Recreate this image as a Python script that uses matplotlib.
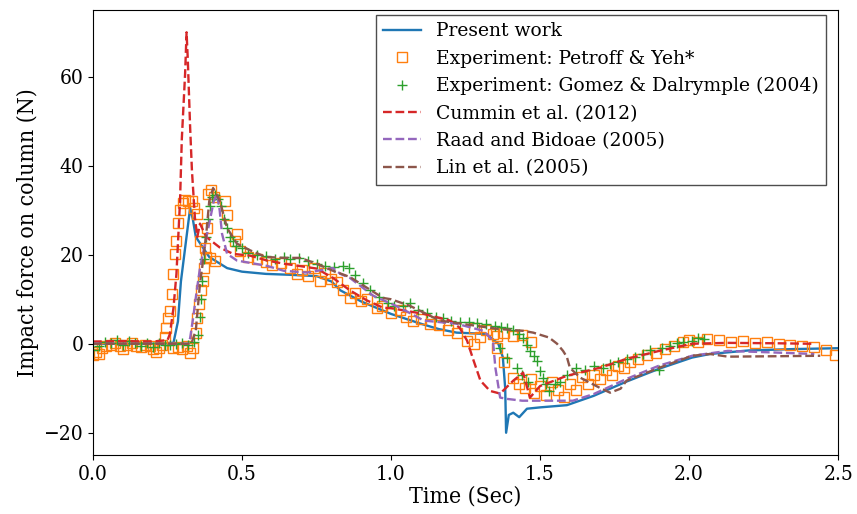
import numpy as np
import matplotlib
matplotlib.use("Agg")
import matplotlib.pyplot as plt

plt.rcParams['font.family'] = ['DejaVu Serif']
plt.rcParams['font.size'] = 13.5

# Present work (simulation)
present_t = [0, 0.1, 0.2, 0.27, 0.285, 0.295, 0.31, 0.326, 0.335, 0.345, 0.36, 0.39, 0.45, 0.5,
             0.58, 0.66, 0.75, 0.8, 0.83, 0.9, 1.0, 1.1, 1.16, 1.22, 1.32, 1.36, 1.375, 1.383, 1.386,
             1.395, 1.41, 1.43, 1.456, 1.5, 1.59, 1.68, 1.79, 1.9, 2.01, 2.07, 2.2, 2.35, 2.5]
present_f = [0, 0, 0, 0.2, 5, 14, 22, 30.5, 28, 24, 22.5, 19.5, 17, 16.2,
             15.7, 15.5, 15.2, 14, 12, 9.5, 6.7, 4.5, 3.3, 2.5, 2.2, 0, -3, -10, -20,
             -16, -15.5, -16.5, -14.6, -14.3, -13.8, -11.7, -8.5, -5.6, -3.1, -2.3, -1.5, -1.2, -1.0]

# Petroff & Yeh experiment
petroff_t = [0.00, 0.01, 0.02, 0.03, 0.045, 0.06, 0.075, 0.09, 0.1, 0.115, 0.13, 0.145, 0.16, 0.175,
             0.19, 0.2, 0.21, 0.22, 0.23, 0.24,
             0.245, 0.25, 0.258, 0.265, 0.268, 0.275, 0.278, 0.285, 0.292, 0.302, 0.31, 0.319, 0.332,
             0.34, 0.349, 0.359, 0.376,
             0.27, 0.285, 0.3, 0.315, 0.325, 0.335,
             0.345, 0.349, 0.355, 0.362, 0.37, 0.372, 0.38, 0.383, 0.386, 0.395, 0.405, 0.393, 0.41,
             0.443, 0.45, 0.483, 0.476, 0.493,
             0.52, 0.55, 0.58, 0.6, 0.63, 0.66, 0.685, 0.7, 0.72, 0.74, 0.76, 0.78, 0.8, 0.82, 0.84,
             0.862, 0.88, 0.9, 0.92, 0.953, 0.97, 1.0, 1.03, 1.05, 1.074, 1.1, 1.13, 1.16, 1.19,
             1.22, 1.255, 1.277, 1.3, 1.32, 1.342, 1.356, 1.38, 1.41, 1.43, 1.45, 1.47, 1.48, 1.5,
             1.52, 1.54, 1.56, 1.58, 1.6, 1.62, 1.64, 1.66, 1.68, 1.7, 1.72, 1.74, 1.76, 1.78, 1.8,
             1.83, 1.86, 1.89, 1.92, 1.95, 1.98, 2.0, 2.03, 2.06, 2.1, 2.14, 2.18, 2.22, 2.26, 2.3,
             2.34, 2.38, 2.42, 2.46, 2.49,
             1.277, 1.356, 1.38, 1.41, 1.44, 1.47]
petroff_f = [-2.5, -1.8, -2.4, -1.0, -0.4, -0.2, 0.1, -0.6, -1.2, -0.3, 0.2, -0.4, -0.8, -0.2,
             -0.5, -1.2, -1.8, -1.0, -0.3, 1.5,
             3.6, 5.8, 7.4, 11.2, 15.7, 20.2, 23, 27.2, 30, 31.7, 32.3, 32.1, 32,
             30.5, 29.2, 23, 21.6,
             -1.0, -0.8, -1.2, -0.6, -2.0, -0.9,
             2.5, 5.8, 9, 12, 14, 17, 19.4, 26, 33.7, 34.5, 33, 19.3, 18.7,
             32, 29, 24.7, 23, 20.9,
             19.5, 19, 18.3, 17.8, 18.2, 17, 15.7, 16.5, 15.3, 17, 14.2, 16, 14.5, 13.8, 12,
             10.3, 11.5, 9.5, 10, 8.1, 8.5, 7, 7.5, 6, 5.2, 5.5, 4.5, 4.2, 3,
             2.5, 0.7, 0, 1.5, 3, 2.2, -0.9, -4, -7.6, -9, -10, -8, -11, -9.5,
             -11.5, -8.5, -10.5, -12, -9, -10.5, -7.5, -9, -7, -8, -6, -7, -5, -5.5, -4,
             -3.5, -2.5, -2, -1.2, -0.5, 0.3, 0.8, 0.5, 1.0, 0.8, 0.5, 0.6, 0.2, 0.4, 0,
             -0.3, -0.5, -0.8, -1.5, -2.5,
             3.6, 1.8, 2.5, 1.8, 2.0, 0.5]

# Gomez & Dalrymple (2004) experiment
gomez_t = [0.0, 0.02, 0.04, 0.06, 0.08, 0.1, 0.12, 0.14, 0.16, 0.18, 0.2, 0.22, 0.24, 0.26, 0.28,
           0.3, 0.32, 0.34,
           0.352, 0.358, 0.362, 0.366, 0.372, 0.378, 0.385, 0.392, 0.40, 0.41, 0.42, 0.43, 0.44,
           0.45, 0.46, 0.47, 0.48, 0.5, 0.52, 0.55, 0.58, 0.61, 0.64, 0.66, 0.69, 0.72, 0.75,
           0.78, 0.81, 0.84, 0.86, 0.88, 0.906, 0.93, 0.96, 0.99, 1.01, 1.04, 1.064, 1.09, 1.12,
           1.15, 1.175, 1.2, 1.23, 1.26, 1.29, 1.32, 1.35, 1.37, 1.39, 1.41, 1.43, 1.443, 1.455,
           1.467, 1.478, 1.49, 1.5, 1.51, 1.52, 1.53,
           1.366, 1.39, 1.423, 1.44, 1.46, 1.55, 1.567, 1.59, 1.62, 1.65, 1.68, 1.71, 1.735, 1.76,
           1.79, 1.82, 1.846, 1.87, 1.9, 1.91, 1.936, 1.96, 1.98, 2.01, 2.03, 2.05]
gomez_f = [-1.5, -0.5, 0.3, 0.2, 0.9, -0.3, 0.6, 0.2, -0.4, 0.1, -0.8, 0.2, -0.2, -0.3, 0.0,
           0.1, -0.2, 0.3,
           2.0, 6, 10, 14, 19, 24, 28, 31, 33, 33.5, 32.5, 31, 28,
           26, 24, 23, 22, 21.5, 20.5, 20, 19.8, 19, 19.5, 19, 19.3, 18.5, 18,
           17.5, 17.3, 17.5, 17, 15.5, 13.6, 12, 10.5, 9.2, 8.5, 8.5, 9.2, 7.5, 6.8,
           6, 5.8, 5.2, 5, 4.8, 4.6, 4.5, 4, 3.8, 3.6, 3.0, 2.3, 1.3, -0.2,
           -1.6, -2.8, -3.8, -6.1, -7.6, -9, -10.6,
           -0.9, -3.1, -5.4, -7, -8.5, -9, -8.5, -7, -5.4, -6, -5, -5.5, -4.5, -4,
           -3.4, -3, -2.2, -1.5, -6, -1, -0.4, 0.2, 0.4, 0.7, 1.2, 1.1]

# Cummin et al. (2012)
cummin_t = [0, 0.1, 0.2, 0.25, 0.258, 0.27, 0.28, 0.292, 0.298, 0.309, 0.314, 0.318, 0.326, 0.332,
            0.342, 0.35, 0.359, 0.38, 0.426, 0.47, 0.527, 0.584, 0.64, 0.75, 0.805, 0.862, 0.92,
            0.973, 1.0, 1.11, 1.198, 1.23, 1.255, 1.277, 1.30, 1.332, 1.366, 1.41, 1.443, 1.466,
            1.5, 1.59, 1.70, 1.79, 1.9, 2.01, 2.13, 2.3, 2.41]
cummin_f = [0.5, 0.6, 0.5, 0.8, 2.2, 8, 15.7, 32, 46, 60.6, 70, 64, 48.5, 38.9,
            28.3, 24, 27, 24, 21.6, 20.2, 19.8, 18.7, 18, 16.9, 14.8, 12, 9.7,
            8.1, 8.0, 6.7, 5.2, 3.6, 0.7, -3.8, -8.3, -10.6, -11.2, -8.3, -6.5, -12.1,
            -9.5, -7.2, -5.4, -3.4, -1.6, 0, 0.2, 0.1, 0]

# Raad and Bidoae (2005)
raad_t = [0, 0.2, 0.32, 0.326, 0.336, 0.348, 0.359, 0.37, 0.39, 0.405, 0.416, 0.425, 0.433, 0.45,
          0.483, 0.584, 0.64, 0.718, 0.805, 0.83, 0.862, 0.94, 1.03, 1.11, 1.22, 1.31, 1.342, 1.35,
          1.366, 1.39, 1.44, 1.61, 1.68, 1.79, 1.90, 2.01, 2.13, 2.3, 2.42]
raad_f = [0, 0, 0, 1.3, 5.8, 11.9, 17, 20.6, 27, 32, 33.7, 30, 24.7, 20.2,
          18.7, 17.5, 16.4, 16, 17, 15.7, 14.8, 10.8, 8.1, 5.2, 4.5, 2.9, 0.7, -5.4,
          -12.1, -12.4, -12.8, -12.8, -11.3, -7.9, -4.9, -2.7, -1.6, -2.0, -2.3]

# Lin et al. (2005)
lin_t = [0, 0.2, 0.33, 0.345, 0.359, 0.37, 0.38, 0.39, 0.403, 0.415, 0.426, 0.45, 0.483, 0.527,
         0.58, 0.64, 0.695, 0.75, 0.805, 0.862, 0.973, 1.0, 1.064, 1.164, 1.33, 1.366, 1.443,
         1.477, 1.53, 1.557, 1.577, 1.59, 1.60, 1.634, 1.70, 1.735, 1.77, 1.79, 1.90, 2.01, 2.07,
         2.13, 2.3, 2.44]
lin_f = [0, 0, 0, 3, 13.5, 19, 24.7, 32, 35, 33.5, 32, 26, 22.5, 21,
         19.5, 19.3, 19.3, 18, 16.4, 15, 10.3, 10, 8.5, 5.2, 3.6, 3.3, 2.9,
         2.5, 1.4, 0, -1.6, -3, -5.4, -7.6, -9.9, -11, -10.1, -8.3, -5.4, -2.7, -2.3,
         -2.9, -2.8, -2.7]

fig = plt.figure(figsize=(8.57, 5.14), dpi=100)
ax = fig.add_axes([0.1085, 0.1148, 0.8695, 0.8657])

ax.plot(present_t, present_f, color='C0', lw=1.7, label='Present work')
ax.plot(petroff_t, petroff_f, 's', color='C1', mfc='none', ms=6.5, mew=1.0, ls='none',
        label='Experiment: Petroff & Yeh*')
ax.plot(gomez_t, gomez_f, '+', color='C2', ms=7, mew=1.0, ls='none',
        label='Experiment: Gomez & Dalrymple (2004)')
ax.plot(cummin_t, cummin_f, '--', color='C3', lw=1.7, label='Cummin et al. (2012)')
ax.plot(raad_t, raad_f, '--', color='C4', lw=1.7, label='Raad and Bidoae (2005)')
ax.plot(lin_t, lin_f, '--', color='C5', lw=1.7, label='Lin et al. (2005)')

ax.set_xlim(0, 2.5)
ax.set_ylim(-25, 75)
ax.set_yticks([-20, 0, 20, 40, 60])
label_font = dict(size=16.5, stretch='condensed')
ax.set_xlabel('Time (Sec)', fontdict=label_font, labelpad=1)
ax.set_ylabel('Impact force on column (N)', fontdict=label_font, labelpad=3)
for lab in ax.get_xticklabels() + ax.get_yticklabels():
    lab.set_fontsize(15)
    lab.set_fontstretch('condensed')

ax.legend(loc='upper right', bbox_to_anchor=(0.99, 1.0), borderaxespad=0.25,
          fancybox=False, framealpha=1, edgecolor='0.3', fontsize=13.5)

fig.savefig('out.png', dpi=100)
